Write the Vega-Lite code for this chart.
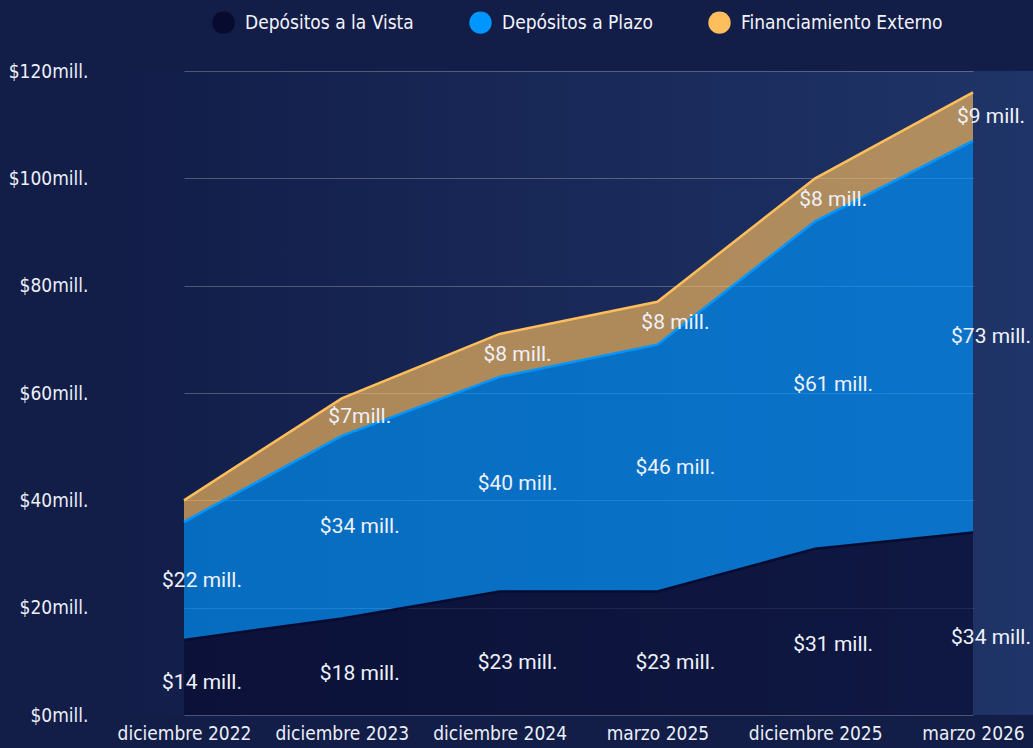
{
  "$schema": "https://vega.github.io/schema/vega-lite/v6.json",
  "width": 927,
  "height": 644,
  "autosize": {"type": "none"},
  "padding": {"left": 106, "top": 71, "right": 0, "bottom": 33},
  "background": "#121d48",
  "config": {
    "view": {
      "stroke": null,
      "fill": {"gradient": "linear", "x1": 0, "y1": 0, "x2": 1, "y2": 0,
        "stops": [{"offset": 0, "color": "#121d48"}, {"offset": 1, "color": "#1f3468"}]}
    },
    "axis": {
      "labelFont": "DejaVu Sans Condensed, DejaVu Sans, sans-serif",
      "labelFontSize": 19,
      "labelColor": "#eceff7",
      "ticks": false,
      "domain": false,
      "title": null
    },
    "legend": {
      "labelFont": "DejaVu Sans Condensed, DejaVu Sans, sans-serif",
      "labelFontSize": 19,
      "labelColor": "#f2f4fa",
      "labelLimit": 400,
      "symbolType": "circle",
      "symbolSize": 500,
      "symbolOpacity": 1,
      "symbolStrokeWidth": 0,
      "labelOffset": 10,
      "columnPadding": 55,
      "title": null
    }
  },
  "data": {
    "values": [
      {"fecha": "diciembre 2022", "serie": "Depósitos a la Vista", "valor": 14, "etiqueta": "$14 mill."},
      {"fecha": "diciembre 2022", "serie": "Depósitos a Plazo", "valor": 22, "etiqueta": "$22 mill."},
      {"fecha": "diciembre 2022", "serie": "Financiamiento Externo", "valor": 4, "etiqueta": ""},
      {"fecha": "diciembre 2023", "serie": "Depósitos a la Vista", "valor": 18, "etiqueta": "$18 mill."},
      {"fecha": "diciembre 2023", "serie": "Depósitos a Plazo", "valor": 34, "etiqueta": "$34 mill."},
      {"fecha": "diciembre 2023", "serie": "Financiamiento Externo", "valor": 7, "etiqueta": "$7mill."},
      {"fecha": "diciembre 2024", "serie": "Depósitos a la Vista", "valor": 23, "etiqueta": "$23 mill."},
      {"fecha": "diciembre 2024", "serie": "Depósitos a Plazo", "valor": 40, "etiqueta": "$40 mill."},
      {"fecha": "diciembre 2024", "serie": "Financiamiento Externo", "valor": 8, "etiqueta": "$8 mill."},
      {"fecha": "marzo 2025", "serie": "Depósitos a la Vista", "valor": 23, "etiqueta": "$23 mill."},
      {"fecha": "marzo 2025", "serie": "Depósitos a Plazo", "valor": 46, "etiqueta": "$46 mill."},
      {"fecha": "marzo 2025", "serie": "Financiamiento Externo", "valor": 8, "etiqueta": "$8 mill."},
      {"fecha": "diciembre 2025", "serie": "Depósitos a la Vista", "valor": 31, "etiqueta": "$31 mill."},
      {"fecha": "diciembre 2025", "serie": "Depósitos a Plazo", "valor": 61, "etiqueta": "$61 mill."},
      {"fecha": "diciembre 2025", "serie": "Financiamiento Externo", "valor": 8, "etiqueta": "$8 mill."},
      {"fecha": "marzo 2026", "serie": "Depósitos a la Vista", "valor": 34, "etiqueta": "$34 mill."},
      {"fecha": "marzo 2026", "serie": "Depósitos a Plazo", "valor": 73, "etiqueta": "$73 mill."},
      {"fecha": "marzo 2026", "serie": "Financiamiento Externo", "valor": 9, "etiqueta": "$9 mill."}
    ]
  },
  "transform": [
    {"calculate": "indexof(['Depósitos a la Vista','Depósitos a Plazo','Financiamiento Externo'], datum.serie)", "as": "orden"}
  ],
  "encoding": {
    "x": {
      "field": "fecha",
      "type": "nominal",
      "sort": null,
      "scale": {"type": "point", "range": [78, 867], "padding": 0},
      "axis": {"labelAngle": 0, "labelPadding": 9, "grid": false}
    }
  },
  "layer": [
    {
      "mark": {"type": "area", "fillOpacity": 0.65, "interpolate": "linear"},
      "encoding": {
        "y": {
          "field": "valor",
          "type": "quantitative",
          "stack": "zero",
          "scale": {"domain": [0, 120], "nice": false},
          "axis": {
            "values": [0, 20, 40, 60, 80, 100, 120],
            "labelExpr": "'$' + datum.value + 'mill.'",
            "labelPadding": 18,
            "grid": true,
            "gridColor": "#ffffff",
            "gridOpacity": 0.25
          }
        },
        "color": {
          "field": "serie",
          "type": "nominal",
          "scale": {
            "domain": ["Depósitos a la Vista", "Depósitos a Plazo", "Financiamiento Externo"],
            "range": ["#070b30", "#0096ff", "#ffbe5c"]
          },
          "legend": {"orient": "none", "direction": "horizontal", "legendX": 106, "legendY": -60}
        },
        "order": {"field": "orden", "type": "quantitative"}
      }
    },
    {
      "mark": {"type": "line", "strokeWidth": 2.5, "interpolate": "linear"},
      "encoding": {
        "y": {"field": "valor", "type": "quantitative", "stack": "zero"},
        "color": {"field": "serie", "type": "nominal"},
        "order": {"field": "orden", "type": "quantitative"}
      }
    },
    {
      "transform": [
        {"stack": "valor", "groupby": ["fecha"], "sort": [{"field": "orden", "order": "ascending"}], "as": ["y0", "y1"]},
        {"calculate": "datum.y0 + (datum.orden == 0 ? 0.42 : 0.5) * (datum.y1 - datum.y0)", "as": "mid"}
      ],
      "mark": {"type": "text", "dx": 18, "fontSize": 21, "font": "Roboto", "color": "#eef1f8"},
      "encoding": {
        "y": {"field": "mid", "type": "quantitative"},
        "text": {"field": "etiqueta"}
      }
    }
  ]
}
